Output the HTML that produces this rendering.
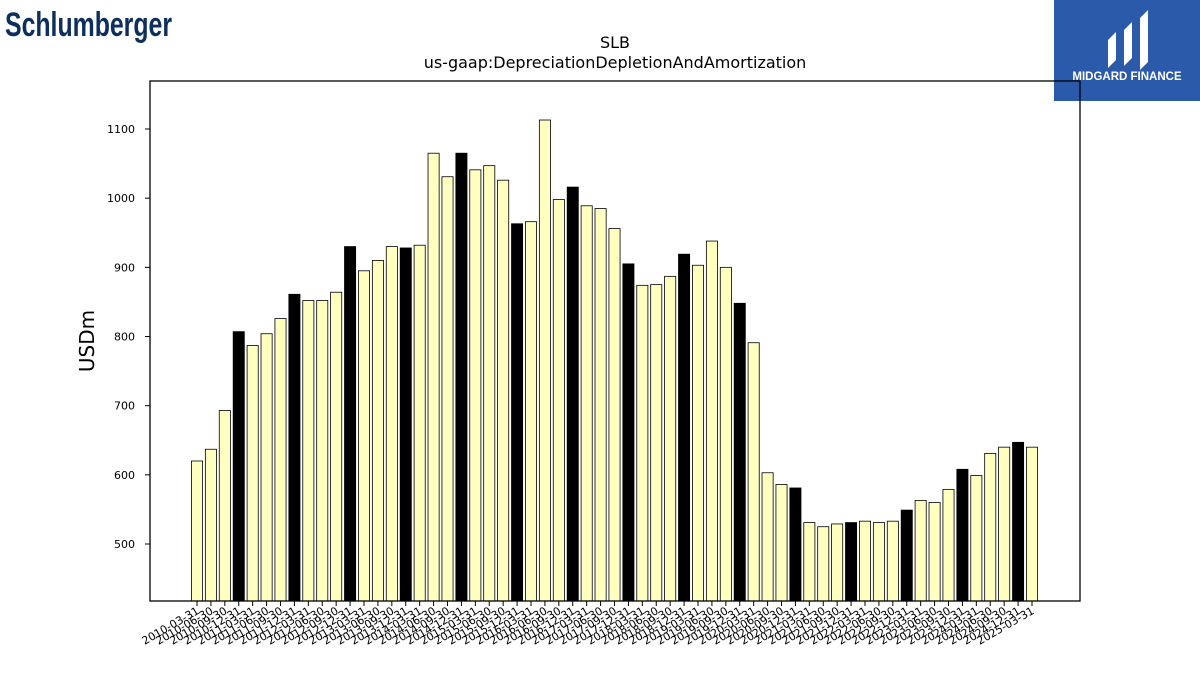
<!DOCTYPE html>
<html><head><meta charset="utf-8"><style>
body{margin:0;background:#fff;width:1200px;height:675px;overflow:hidden;font-family:"DejaVu Sans","Liberation Sans",sans-serif}
</style></head><body>
<svg width="1200" height="675" xmlns="http://www.w3.org/2000/svg" font-family="DejaVu Sans, Liberation Sans, sans-serif">
<text x="5" y="36" font-family="Liberation Sans" font-weight="bold" font-size="34" fill="#0d2f5e" textLength="167" lengthAdjust="spacingAndGlyphs">Schlumberger</text>
<g>
<rect x="1054" y="0" width="146" height="101" fill="#2b5aab"/>
<path d="M1108 68 L1108 40 L1116 32 L1116 60 Z M1124 66 L1124 30 L1132 22 L1132 58 Z M1140 70 L1140 18 L1148 10 L1148 62 Z" fill="#fff"/>
<text x="1127" y="80" font-family="Liberation Sans" font-size="11.5" font-weight="bold" fill="#fff" text-anchor="middle">MIDGARD FINANCE</text>
</g>
<text x="615" y="48" font-size="16" text-anchor="middle">SLB</text>
<text x="615" y="68" font-size="16" text-anchor="middle">us-gaap:DepreciationDepletionAndAmortization</text>
<text transform="translate(94,341) rotate(-90)" font-size="20" text-anchor="middle">USDm</text>
<g id="plot"></g>
<rect x="150" y="81" width="930" height="520" fill="none" stroke="#000" stroke-width="1.3"/>
</svg>
<script>
const values=[620,637,693,807,787,804,826,861,852,852,864,930,895,910,930,928,932,1065,1031,1065,1041,1047,1026,963,966,1113,998,1016,989,985,956,905,874,875,887,919,903,938,900,848,791,603,586,581,531,525,529,531,533,531,533,549,563,560,579,608,599,631,640,647,640];
const yTicks=[500,600,700,800,900,1000,1100];
const startYear=2010;
const qEnds=["03-31","06-30","09-30","12-31"];
{
const labels=values.map((v,i)=>(startYear+Math.floor(i/4))+"-"+qEnds[i%4]);
const yMin=417.6,yMax=1169.4,yTop=81,yBot=601;
function yS(v){return yBot-(v-yMin)/(yMax-yMin)*(yBot-yTop);}
const x0=197,x1=1032;
function xS(i){return x0+(x1-x0)*i/(values.length-1);}
const step=(x1-x0)/(values.length-1),bw=step*0.8;
const g=document.getElementById('plot');const NS="http://www.w3.org/2000/svg";
values.forEach((v,i)=>{
 const r=document.createElementNS(NS,'rect');
 r.setAttribute('x',xS(i)-bw/2);r.setAttribute('y',yS(v));r.setAttribute('width',bw);r.setAttribute('height',yBot-yS(v));
 r.setAttribute('fill',i%4==3?'#000':'#ffffc0');r.setAttribute('stroke','#000');r.setAttribute('stroke-width','0.8');
 
 
 g.appendChild(r);
 const t=document.createElementNS(NS,'line');
 t.setAttribute('x1',xS(i));t.setAttribute('x2',xS(i));t.setAttribute('y1',yBot);t.setAttribute('y2',yBot+5);t.setAttribute('stroke','#000');
 
 
 g.appendChild(t);
 const l=document.createElementNS(NS,'text');
 l.setAttribute('transform','translate('+(xS(i)+3)+','+(yBot+12)+') rotate(-30)');
 l.setAttribute('text-anchor','end');l.setAttribute('font-size','11');
 l.textContent=labels[i];
 
 
 g.appendChild(l);
});
yTicks.forEach(v=>{
 const t=document.createElementNS(NS,'line');
 t.setAttribute('x1',145);t.setAttribute('x2',150);t.setAttribute('y1',yS(v));t.setAttribute('y2',yS(v));t.setAttribute('stroke','#000');
 
 
 g.appendChild(t);
 const l=document.createElementNS(NS,'text');
 l.setAttribute('x',135);l.setAttribute('y',yS(v)+4);l.setAttribute('text-anchor','end');l.setAttribute('font-size','11');
 l.textContent=v;
 
 
 g.appendChild(l);
});
}
</script>
</body></html>
